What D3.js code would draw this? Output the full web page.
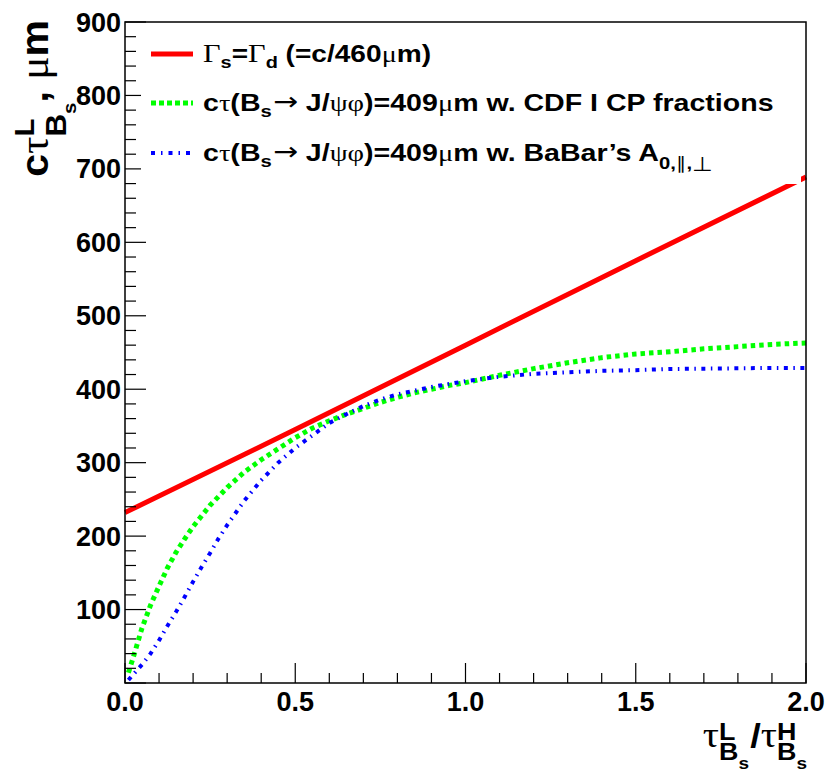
<!DOCTYPE html>
<html>
<head>
<meta charset="utf-8">
<script src="https://cdn.jsdelivr.net/npm/d3@7"></script>
<style>
  body { margin: 0; background: #fff; }
  svg { display: block; }
  text { white-space: pre; }
</style>
</head>
<body>
<div id="chart"></div>
<script>
const width = 840;
const height = 773;

// tau_L / tau_H ratio (x) and c*tau_L in um (y)
const redX = [0.0, 0.5, 1.0, 1.5, 2.0];
const redY = [232, 345, 460, 575, 689];

const greenX = [0.01, 0.025, 0.05, 0.075, 0.1, 0.125, 0.15, 0.175, 0.2, 0.25, 0.3, 0.35, 0.4, 0.45, 0.5,
  0.55, 0.6, 0.65, 0.7, 0.75, 0.8, 0.85, 0.9, 0.95, 1.0, 1.05, 1.1, 1.2, 1.3, 1.4, 1.5, 1.6, 1.7, 1.8, 1.9, 2.0];
const greenY = [14, 36, 75, 106, 132, 157, 178, 196, 213, 242, 266, 287, 304, 319, 334,
  347, 357, 366, 374, 382, 389, 395, 400, 405, 409, 414, 419, 428, 436, 443, 448, 451, 455, 458, 461, 463];

const blueX = [0.01, 0.025, 0.05, 0.075, 0.1, 0.125, 0.15, 0.175, 0.2, 0.225, 0.25, 0.275, 0.3, 0.35, 0.4, 0.45, 0.5,
  0.55, 0.6, 0.65, 0.7, 0.75, 0.8, 0.85, 0.9, 0.95, 1.0, 1.1, 1.2, 1.3, 1.4, 1.5, 1.6, 1.7, 1.8, 1.9, 2.0];
const blueY = [4, 12, 25, 40, 58, 78, 97, 117, 138, 158, 177, 197, 215, 248, 276, 300, 320,
  337, 354, 366, 377, 386, 393, 398, 403, 407, 411, 417, 421, 423, 425, 426, 427.5, 428, 428.5, 429, 429];

const xTickLabels = ["0.0", "0.5", "1.0", "1.5", "2.0"];
const yTickLabels = ["100", "200", "300", "400", "500", "600", "700", "800", "900"];

const plotLeft = 125, plotRight = 806, plotTop = 22, plotBottom = 683;

const svg = d3.select("#chart").append("svg")
  .attr("width", width)
  .attr("height", height);

const x = d3.scaleLinear().domain([0, 2]).range([plotLeft, plotRight]);
const y = d3.scaleLinear().domain([0, 900]).range([plotBottom, plotTop]);

const SANS = "'Liberation Sans', Arial, Helvetica, sans-serif";
const SERIF = "'Liberation Serif', 'Times New Roman', serif";
const ARROW = "'DejaVu Sans', sans-serif";

// lay out a run of text pieces (sub/superscripts, greek in serif)
function richText(parent, runs, px, py, anchor, rot, sx) {
  const g = parent.append("g");
  let cx = 0, saved = 0, supEnd = 0;
  runs.forEach(r => {
    if (r.save) saved = cx;
    if (r.back) { supEnd = cx; cx = saved; }
    const fam = r.arrow ? ARROW : (r.serif ? SERIF : SANS);
    const t = g.append("text")
      .attr("x", cx + (r.dx || 0))
      .attr("y", r.dy || 0)
      .style("font-family", fam)
      .style("font-weight", (r.serif || r.arrow) ? "normal" : "bold")
      .style("font-size", r.size + "px")
      .text(r.t);
    cx += t.node().getComputedTextLength() + (r.dx || 0) + (r.after || 0);
    if (r.join) cx = Math.max(cx, supEnd);
  });
  const off = anchor === "end" ? -cx : 0;
  g.attr("transform", `translate(${px},${py}) rotate(${rot || 0}) scale(${sx || 1},1) translate(${off},0)`);
  return g;
}

// curves
const line = d3.line().x(d => x(d[0])).y(d => y(d[1]));

svg.append("path")
  .datum(d3.zip(greenX, greenY))
  .attr("d", line)
  .attr("fill", "none")
  .attr("stroke", "#00ff00")
  .attr("stroke-width", 5)
  .attr("stroke-dasharray", "4.5 4");

svg.append("path")
  .datum(d3.zip(blueX, blueY))
  .attr("d", line)
  .attr("fill", "none")
  .attr("stroke", "#0000ff")
  .attr("stroke-width", 4)
  .attr("stroke-dasharray", "4 5.5 1.5 5.5");

svg.append("path")
  .datum(d3.zip(redX, redY))
  .attr("d", line)
  .attr("fill", "none")
  .attr("stroke", "#ff0000")
  .attr("stroke-width", 5);

// axes
const yAxis = svg.append("g");
d3.range(0, 901, 20).forEach(v => {
  const major = v % 100 === 0;
  yAxis.append("line")
    .attr("x1", plotLeft).attr("x2", plotLeft + (major ? 21 : 11))
    .attr("y1", y(v)).attr("y2", y(v))
    .attr("stroke", "#000").attr("stroke-width", 1.2);
});
yAxis.selectAll("text.tick")
  .data(yTickLabels)
  .join("text")
  .attr("class", "tick")
  .attr("x", 121)
  .attr("y", d => y(+d) + 9.5)
  .attr("text-anchor", "end")
  .style("font-family", SANS)
  .style("font-weight", "bold")
  .style("font-size", "27px")
  .text(d => d);

const xAxis = svg.append("g");
d3.range(0, 21).forEach(i => {
  const major = i % 5 === 0;
  xAxis.append("line")
    .attr("x1", x(i / 10)).attr("x2", x(i / 10))
    .attr("y1", plotBottom).attr("y2", plotBottom - (major ? 20 : 10))
    .attr("stroke", "#000").attr("stroke-width", 1.2);
});
xAxis.selectAll("text.tick")
  .data(xTickLabels)
  .join("text")
  .attr("class", "tick")
  .attr("x", d => x(+d))
  .attr("y", 711)
  .attr("text-anchor", "middle")
  .style("font-family", SANS)
  .style("font-weight", "bold")
  .style("font-size", "27px")
  .text(d => d);

// legend (white box hides tick ends)
const legend = svg.append("g");
legend.append("rect")
  .attr("x", 141).attr("y", 24).attr("width", 660).attr("height", 160)
  .attr("fill", "#fff");

const legRows = [
  { y: 54, color: "#ff0000", w: 5, dash: null },
  { y: 103, color: "#00ff00", w: 5, dash: "5 3" },
  { y: 153, color: "#0000ff", w: 4, dash: "4 6 1.5 6" }
];
legRows.forEach(r => {
  legend.append("line")
    .attr("x1", 151).attr("x2", 193)
    .attr("y1", r.y).attr("y2", r.y)
    .attr("stroke", r.color)
    .attr("stroke-width", r.w)
    .attr("stroke-dasharray", r.dash);
});

const fs = 24, sub = 17;
richText(legend, [
  { t: "Γ", serif: true, size: fs + 2 },
  { t: "s", size: sub, dy: 6 },
  { t: "=", size: fs },
  { t: "Γ", serif: true, size: fs + 2 },
  { t: "d", size: sub, dy: 6 },
  { t: " (=c/460", size: fs },
  { t: "μ", serif: true, size: fs },
  { t: "m)", size: fs }
], 203, 62, "start", 0, 1.17);

const bsPart = [
  { t: "c", size: fs },
  { t: "τ", serif: true, size: fs },
  { t: "(B", size: fs },
  { t: "s", size: sub, dy: 6, after: 1 },
  { t: "→", arrow: true, size: fs + 1, dy: -1 },
  { t: " J/", size: fs },
  { t: "ψφ", serif: true, size: fs },
  { t: ")=409", size: fs },
  { t: "μ", serif: true, size: fs }
];
richText(legend, bsPart.concat([{ t: "m w. CDF I CP fractions", size: fs }]),
  203, 111, "start", 0, 1.19);
richText(legend, bsPart.concat([
  { t: "m w. BaBar’s A", size: fs },
  { t: "0,", size: sub, dy: 8 },
  { t: "∥", serif: true, size: sub, dy: 8 },
  { t: ",", size: sub, dy: 8 },
  { t: "⊥", serif: true, size: sub + 3, dy: 10 }
]), 203, 161, "start", 0, 1.19);

// frame
svg.append("rect")
  .attr("x", plotLeft).attr("y", plotTop)
  .attr("width", plotRight - plotLeft).attr("height", plotBottom - plotTop)
  .attr("fill", "none")
  .attr("stroke", "#000")
  .attr("stroke-width", 1.5);

// axis titles
richText(svg, [
  { t: "τ", serif: true, size: 36 },
  { t: "L", size: 24, dy: -7, save: true },
  { t: "B", size: 24, dy: 13, back: true },
  { t: "s", size: 17, dy: 22, join: true },
  { t: "/", size: 34, dx: 1 },
  { t: "τ", serif: true, size: 36 },
  { t: "H", size: 24, dy: -7, save: true },
  { t: "B", size: 24, dy: 13, back: true },
  { t: "s", size: 17, dy: 22, join: true }
], 807, 747, "end", 0, 1.12);

richText(svg, [
  { t: "c", size: 38 },
  { t: "τ", serif: true, size: 40 },
  { t: "L", size: 27, dy: -14, save: true },
  { t: "B", size: 29, dy: 18, back: true },
  { t: "s", size: 19, dy: 28, join: true },
  { t: ", ", size: 38 },
  { t: "μ", serif: true, size: 40 },
  { t: "m", size: 38 }
], 48, 20, "end", -90, 1.08);
</script>
</body>
</html>
